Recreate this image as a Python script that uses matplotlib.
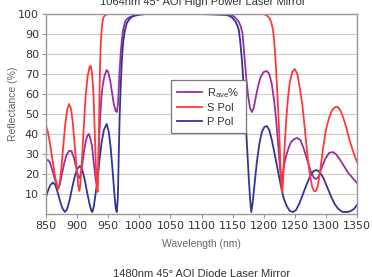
import matplotlib.pyplot as plt
import numpy as np

# S polarisation (red)
s_wl = [850, 853, 856, 859, 862, 865, 868, 870, 872, 875, 878, 881, 884, 887, 890, 893, 896, 899,
        902, 903.5, 905, 908, 911, 914, 917, 920, 922, 924, 926, 928, 930, 932, 933, 934, 935, 936,
        937, 938, 940, 942, 945, 950, 1000, 1100, 1200, 1203, 1206, 1209, 1212, 1215, 1217, 1219,
        1221, 1223, 1225, 1227, 1229, 1230, 1231, 1233, 1236, 1239, 1242, 1246, 1250, 1254, 1258,
        1262, 1266, 1270, 1274, 1278, 1281, 1284, 1287, 1291, 1295, 1300, 1305, 1310, 1315, 1319,
        1323, 1328, 1333, 1338, 1344, 1350]
s_val = [44, 41, 36, 30, 24, 18, 13.5, 12.5, 15, 24, 35, 45, 52, 55, 53, 46, 35, 24,
         14, 11.5, 14, 28, 45, 60, 69, 73.5, 74, 70, 62, 45, 25, 12, 11, 20, 40, 60,
         75, 85, 94, 98, 99.5, 100, 100, 100, 100, 99.5, 99, 98, 96, 92, 86, 77,
         66, 54, 40, 24, 12, 11, 16, 30, 46, 58, 66, 71, 72.5, 70, 63,
         55, 43, 30, 20, 13.5, 11.5, 11.5, 14, 22, 32, 42, 48, 52, 53.5, 53.5,
         52, 48, 43, 37, 31, 26]

# P polarisation (blue)
p_wl = [850, 853, 857, 861, 865, 869, 873, 877, 880.5, 884, 888, 892, 896, 900, 904.5, 908, 912,
        916, 920, 923, 924.5, 927, 931, 935, 939, 943, 947.5, 951, 954, 957, 960, 962, 963.7,
        965.5, 967, 968.5, 970, 972, 974, 977, 980, 985, 990, 1000, 1010, 1100, 1140, 1145, 1150,
        1155, 1158, 1160, 1162, 1165, 1168, 1170, 1173, 1176, 1178, 1180, 1182, 1185, 1189, 1193,
        1197, 1201, 1205, 1209, 1213, 1217, 1222, 1227, 1232, 1237, 1242, 1247, 1252, 1257, 1262,
        1268, 1274, 1280, 1285, 1290, 1296, 1302, 1308, 1314, 1320, 1327, 1335, 1340, 1345, 1350]
p_val = [8.5, 11.5, 14.5, 15.7, 14.5, 10.5, 6, 2.5, 1, 2.5, 7, 13, 18.5, 22.5, 24, 22.5, 17.5,
         11, 5, 1.5, 1, 4, 13, 24, 35, 42, 45, 41, 33, 22, 10, 3, 1,
         8, 30, 50, 63, 77, 86, 92, 95.5, 97.8, 99, 99.7, 100, 100, 99.5, 99, 98,
         96, 94, 92, 87, 77, 63, 52, 35, 18, 8, 1, 5, 14, 26, 35,
         41, 43.5, 44, 42, 37, 31, 23, 15, 8, 4, 1.5, 1, 2, 5, 9,
         14, 18.5, 21.5, 22, 21, 18, 13.5, 9, 5, 2.5, 1, 1, 1.5, 2.5, 4.5]

# average reflectance (purple)
r_wl = [850, 853, 856, 859, 862, 865, 868, 870, 872, 875, 879, 883, 887, 891, 895, 899, 902,
        903.5, 905, 908, 911, 914, 917, 919, 921, 924, 927, 930, 932, 933, 934, 935, 937, 939,
        941, 944, 947.5, 950, 953, 956, 959, 962, 964, 966, 968, 970, 972, 974, 977, 980, 985,
        990, 1000, 1010, 1100, 1140, 1145, 1150, 1155, 1160, 1163, 1166, 1169, 1172, 1175, 1178,
        1181, 1184, 1187, 1191, 1195, 1200, 1205, 1209, 1213, 1217, 1220, 1223, 1226, 1229, 1231,
        1233, 1236, 1240, 1244, 1249, 1254, 1259, 1264, 1270, 1276, 1281, 1284, 1288, 1293, 1299,
        1305, 1311, 1316, 1322, 1329, 1336, 1343, 1350]
r_val = [26.5, 27, 26, 23, 20, 16.5, 13.5, 13, 14.5, 19, 25, 29.5, 31.5, 31.5, 28, 22.5, 18.5,
         18, 19, 24, 31, 36.5, 39.5, 40, 38, 34, 25, 17, 14, 15, 24, 35, 48, 58,
         64, 69, 72, 71, 67, 61, 55, 51.5, 51, 56, 70, 80, 87, 92, 96, 97.5, 98.5,
         99, 99.7, 100, 100, 100, 99.7, 99.2, 98, 96, 94, 90, 79, 68, 59, 53,
         51, 53, 58, 64, 68.5, 71, 71.5, 70, 65, 56, 47, 36, 24, 14, 20,
         25, 29, 33, 36, 37.5, 38, 37, 33, 27, 21, 18, 17.5, 18.5, 23, 27.5,
         30.5, 31, 30, 27.5, 24, 20.5, 18, 15.5]

x_ticks = [850, 900, 950, 1000, 1050, 1100, 1150, 1200, 1250, 1300, 1350]
y_ticks = [10, 20, 30, 40, 50, 60, 70, 80, 90, 100]

W, H = 372, 277
fig = plt.figure(figsize=(W / 100, H / 100), dpi=100)
ax = fig.add_axes([46 / W, 1 - 214 / H, 311 / W, 200 / H])

narrow = ['Liberation Sans Narrow', 'DejaVu Sans']
plain = ['Liberation Sans', 'DejaVu Sans']

lr, = ax.plot(r_wl, r_val, color='#9a2fa0', lw=1.3)
lp, = ax.plot(p_wl, p_val, color='#343494', lw=1.3)
ls, = ax.plot(s_wl, s_val, color='#ff3838', lw=1.3)

ax.set_xlim(850, 1350)
ax.set_ylim(0, 100)
ax.set_xticks(x_ticks)
ax.set_yticks(y_ticks)
ax.set_xticklabels([str(v) for v in x_ticks], family=narrow, fontsize=8, color='#333333')
ax.set_yticklabels([str(v) for v in y_ticks], family=narrow, fontsize=8, color='#333333')
ax.tick_params(length=3, width=0.8, color='#999999', pad=2)
ax.grid(axis='y', color='#cccccc', lw=0.8)
ax.set_axisbelow(True)
for sp in ax.spines.values():
    sp.set_color('#999999')
    sp.set_linewidth(1.0)

ax.set_xlabel('Wavelength (nm)', family=plain, fontsize=7.5, color='#666666', labelpad=6)
ax.set_ylabel('Reflectance (%)', family=plain, fontsize=7.5, color='#666666')
ax.yaxis.set_label_coords(-28 / 311, 0.55)

leg = ax.legend([lr, ls, lp], ['R$_\\mathregular{ave}$%', 'S Pol', 'P Pol'],
                loc='upper left', bbox_to_anchor=(0.383, 0.70), fancybox=False,
                framealpha=1, edgecolor='#777777', handlelength=2.2, handletextpad=0.5,
                labelspacing=0.3, borderpad=0.6, prop={'family': plain, 'size': 8})
leg.get_frame().set_linewidth(0.9)
for t in leg.get_texts():
    t.set_color('#333333')

fig.text(203 / W, 1 - 5 / H, '1064nm 45° AOI High Power Laser Mirror', ha='center',
         va='baseline', family=plain, fontsize=8, color='#333333')
fig.text(202 / W, 1 - 269 / H, '1480nm 45° AOI Diode Laser Mirror', ha='center',
         va='top', family=plain, fontsize=8, color='#333333')

fig.savefig('out.png', dpi=100)
